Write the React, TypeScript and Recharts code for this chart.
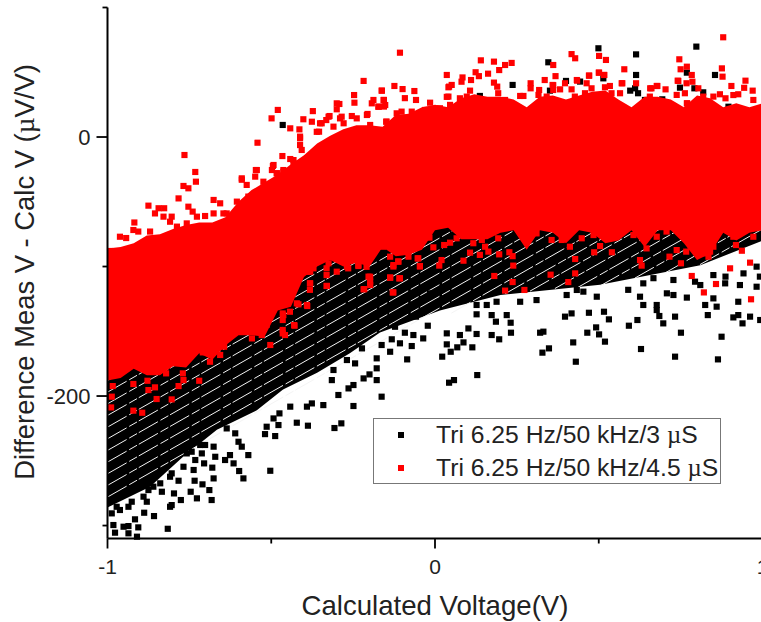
import React from 'react';
import { Area, ComposedChart, Line, Scatter, XAxis, YAxis, ZAxis } from 'recharts';

const BLACK = '#000000';
const RED = '#ff0000';

const xTicks = [-1, -0.5, 0, 0.5, 1];
const yTicks = [-300, -200, -100, 0, 100];
const xLabelled = [-1, 0, 1];
const yLabelled = [-200, 0];

// The saturated core of each cloud cannot be read point by point, so it is an
// envelope read off the picture; every square that stands out is a real point below.
const redX = [-1, -0.96, -0.92, -0.88, -0.84, -0.8, -0.76, -0.72, -0.68, -0.64, -0.6, -0.56, -0.52, -0.48, -0.44, -0.4, -0.36, -0.32, -0.28, -0.24, -0.2, -0.16, -0.12, -0.08, -0.04, 0, 0.04, 0.08, 0.12, 0.16, 0.2, 0.24, 0.28, 0.32, 0.36, 0.4, 0.44, 0.48, 0.52, 0.56, 0.6, 0.64, 0.68, 0.72, 0.76, 0.8, 0.84, 0.88, 0.92, 0.96, 1];
const redUpper = [-86, -85, -82, -76, -75, -71, -68, -66, -66, -62, -50, -41, -35, -29, -21, -14, -5, 1, 6, 9, 9, 8, 17, 18, 23, 25, 23, 30, 33, 31, 31, 29, 23, 31, 32, 29, 32, 35, 36, 29, 23, 31, 31, 29, 23, 32, 30, 23, 26, 23, 26];
const redLower = [-188, -186, -179, -184, -184, -177, -178, -167, -172, -161, -153, -153, -154, -134, -131, -108, -100, -95, -100, -97, -100, -85, -92, -91, -87, -72, -70, -79, -79, -79, -74, -72, -87, -72, -74, -82, -72, -74, -82, -80, -72, -85, -72, -72, -82, -95, -90, -74, -80, -74, -72];

const blackX = [-1, -0.87, -0.77, -0.666, -0.544, -0.464, -0.36, -0.26, -0.168, 0.015, 0.2, 0.504, 0.81, 1];
const blackLower = [-286, -270, -247, -226, -211, -195, -182, -167, -151, -134, -122, -114, -99, -80];
const blackUpper = [-150, -130, -120, -105, -95, -85, -60, -50, -40, -30, -30, -30, -30, -30];

// white gaps between the quantised rows of black squares: [x0, v0, x1, v1]
const stripes = [
  [-1, -188, -0.111, -60], [-1, -197, -0.049, -60], [-1, -206, 0.014, -60], [-1, -215, 0.076, -60],
  [-1, -224, 0.139, -60], [-1, -233, 0.201, -60], [-1, -242, 0.264, -60], [-1, -251, 0.326, -60],
  [-1, -260, 0.389, -60], [-1, -269, 0.451, -60], [-1, -278, 0.514, -60], [0.05, -136, 0.576, -60],
  [0.214, -121, 0.639, -60], [0.29, -119, 0.701, -60], [0.366, -117, 0.764, -60], [0.437, -116, 0.826, -60],
  [0.504, -115, 0.889, -60], [0.61, -109, 0.951, -60], [0.702, -105, 1, -62], [0.809, -98.5, 1, -71],
];

const redPoints = [
  [-0.218, 43.3], [-0.247, 32.4], [-0.246, 26.5], [-0.3, 26], [-0.292, 25.5], [-0.3, 21.4], [-0.193, 26], [-0.162, 35.8], [-0.172, 23.4], [-0.373, 20],
  [-0.402, 13.7], [-0.376, 11.8], [-0.48, 20.9], [-0.499, 14.4], [-0.442, 6.7], [-0.414, 5.9], [-0.542, -4.4], [-0.466, -14.7], [-0.765, -13.9], [-0.732, -27],
  [-0.73, -34.5], [-0.768, -37.8], [-0.753, -39.6], [-0.783, -47.4], [-0.875, -53], [-0.827, -55], [-0.676, -48.6], [-0.59, -33], [-0.544, -25.5], [-0.549, -30.6],
  [-0.495, -22.4], [-0.432, -20.3], [-0.918, -66], [-0.962, -77], [-0.943, -78], [-0.906, -73], [-0.844, -55], [-0.804, -61.5], [-0.753, -53.8], [-0.74, -57.6],
  [-0.656, -51.2], [-0.646, -59], [-0.575, -37], [-0.325, 15.7], [-0.351, 10.6], [-0.29, 14.4], [-0.254, 16.2], [-0.208, 17], [-0.412, -1], [-0.361, 4], [-0.432, -17.8],
  [-0.107, 65.1], [0.036, 47.9], [0.14, 59.2], [0.18, 58.2], [0.196, 51.7], [0.214, 55.6], [0.234, 57.2], [0.124, 50], [0.134, 47], [0.162, 48.9],
  [0.084, 46], [0.11, 44], [0.081, 42.7], [0.051, 40.2], [0.041, 38.4], [0.036, 31], [0.18, 42], [-0.163, 35.8], [-0.124, 39.4], [-0.099, 37],
  [-0.063, 35.5], [-0.092, 30], [-0.156, 28.6], [-0.058, 28.6], [-0.015, 26.5], [0.292, 41.5], [0.335, 44], [0.361, 55.6], [0.368, 47], [0.417, 64],
  [0.428, 60.8], [0.501, 62.6], [0.522, 59.5], [0.501, 49.7], [0.516, 47.9], [0.47, 47.4], [0.578, 52.3], [0.614, 41.5], [0.57, 41.5], [0.746, 60],
  [0.769, 54.3], [0.75, 52.3], [0.784, 47.9], [0.743, 43.3], [0.786, 42.7], [0.88, 77], [0.876, 53], [0.878, 46.6], [0.948, 43.5], [0.905, 39.4],
  [0.944, 38], [0.97, 35.8], [0.926, 33], [0.911, 32.4], [0.433, 44], [0.361, 40], [0.382, 36.8], [0.534, 39.4], [0.657, 37.6], [0.677, 39.4], [0.704, 36.8], [0.769, 26], [0.87, 33],
  [-0.158, -84.7], [-0.017, -77.7], [-0.005, -85.2], [0.028, -83.4], [0.046, -81.6], [-0.053, -93.7], [-0.046, -100], [0.02, -95], [0.013, -99.3], [-0.137, -108.4],
  [-0.107, -109], [-0.127, -120], [-0.112, -96], [-0.137, -92.4], [-0.127, -100], [0.087, -95.5], [0.107, -89.3], [0.137, -91], [0.163, -88.5], [0.196, -90.6],
  [0.227, -89], [0.237, -92], [0.239, -99.3], [0.181, -107.3], [0.237, -112], [0.214, -118.6], [0.273, -118.1], [0.353, -106.3], [0.428, -105.3], [0.407, -112],
  [0.428, -94.2], [0.486, -89], [0.54, -89], [0.504, -84.2], [0.524, -74.4], [0.631, -99.3], [0.626, -95], [0.716, -92.4], [0.751, -97.5], [0.784, -107.3],
  [0.821, -120], [0.858, -113.5], [0.901, -101.4], [0.962, -97], [0.965, -125.3], [0.835, -92.4], [0.82, -89.8], [0.937, -87.8], [0.919, -83.4], [0.738, -87.3], [0.767, -88.5], [0.646, -86],
  [-0.984, -192.3], [-0.987, -200.5], [-0.989, -208.8], [-0.921, -190.7], [-0.921, -211.3], [-0.894, -212.9], [-0.878, -188.2], [-0.875, -195.4], [-0.855, -193.3], [-0.85, -202.3],
  [-0.804, -202.6], [-0.783, -192.3], [-0.72, -188.2], [-0.768, -187.7], [-0.821, -182.5], [-0.77, -182.5], [-0.709, -166.3], [-0.687, -173.5], [-0.656, -168.3], [-0.644, -161.9],
  [-0.559, -155.5], [-0.529, -152.9], [-0.503, -160.6], [-0.465, -151.6], [-0.463, -137.5], [-0.429, -145.7], [-0.514, -145],
  [-0.381, -104], [-0.381, -113], [-0.33, -115], [-0.3, -104], [-0.376, -100], [-0.269, -100], [-0.234, -98.8], [-0.203, -107.8], [-0.198, -114.3], [-0.218, -117.6], [-0.422, -128.4], [-0.391, -129.7], [-0.325, -97.5],
];

const redUpperFringe = [
  [-0.156, 23.5], [-0.03, 20.9], [-0.117, 18.3], [-0.102, 19.6], [-0.148, 11.9], [-0.071, 19.6], [0.043, 38.9], [0.041, 31.2], [0.107, 35.8], [0.076, 29.9],
  [0.097, 31.2], [0.015, 22.2], [0.046, 24.8], [0.19, 38.9], [0.193, 33.8], [0.214, 28.6], [0.26, 31.7], [0.27, 31.7], [0.292, 37.6], [0.359, 40.2],
  [0.361, 36.3], [0.318, 36.3], [0.316, 32.5], [0.341, 31.2], [0.397, 41.5], [0.5, 49.7], [0.517, 47.9], [0.471, 47.4], [0.434, 43.5], [0.417, 36.8],
  [0.463, 41.5], [0.478, 37.6], [0.572, 41.5], [0.519, 38.4], [0.427, 31.2], [0.458, 33.8], [0.565, 33.8], [0.539, 33.8], [0.661, 37.6], [0.679, 39.4],
  [0.741, 43.5], [0.768, 41.5], [0.804, 37.6], [0.85, 31.2], [0.887, 29.9], [0.77, 26], [0.972, 28.6], [0.819, 31.2], [0.763, 33.8], [0.738, 32.5],
  [0.656, 31.2], [0.672, 27.3], [-0.442, -17], [-0.493, -21.6], [-0.498, -25.5], [-0.547, -25.5], [-0.59, -31.9], [-0.188, 28.6], [-0.157, 28.6], [-0.173, 23.4],
  [-0.152, 24.7], [-0.322, 16.2], [-0.285, 15.7], [-0.206, 17.8], [-0.346, 10.6], [-0.332, 13.1], [-0.354, 4.1], [-0.412, 0.3], [-0.412, -6.2], [-0.407, -10],
  [-0.463, -26.8], [-0.483, -28], [-0.239, 14.4], [-0.149, 11.8], [-0.198, 9.3], [-0.31, 8], [-0.279, 10.6], [-0.855, -59], [-0.829, -61.5], [-0.809, -65.4],
  [-0.87, -73], [-0.921, -71.8], [-0.788, -69.2], [-0.758, -66.7], [-0.727, -61.5], [-0.702, -61], [-0.676, -59], [-0.636, -59], [-0.605, -49.9], [-0.57, -46],
  [-0.524, -34.5], [-0.483, -28], [-0.463, -25.5], [-0.992, -88],
];

const redLowerFringe = [
  [-0.331, -101.4], [-0.331, -106.6], [-0.382, -113], [-0.382, -118], [-0.331, -115], [-0.39, -130.5], [-0.417, -129.2], [-0.443, -134.9], [-0.465, -136.2], [-0.465, -141.3],
  [-0.43, -145.2], [-0.465, -149], [-0.458, -152.9], [-0.198, -107.9], [-0.198, -111.7], [-0.216, -117.4], [-0.129, -120], [-0.137, -108.7], [-0.109, -109.2], [-0.127, -98.9],
  [-0.112, -96.3], [-0.051, -93.7], [-0.046, -99.6], [-0.234, -99.6], [-0.209, -100.2], [-0.265, -101.4], [-0.387, -104], [-0.371, -101.4],
  [-0.137, -74.4], [-0.087, -79.5], [-0.071, -86], [-0.081, -92.4], [-0.066, -77], [0.066, -78.2], [0.117, -82], [0.143, -79.5], [0.153, -84.7], [0.193, -78.2],
  [0.28, -79.5], [0.31, -74.4], [0.356, -79.5], [0.387, -79.5], [0.412, -84.7], [0.448, -78.2], [0.484, -75.7], [0.565, -74.4], [0.606, -75.7], [0.677, -77],
  [0.707, -73], [0.799, -79.5], [0.809, -87.3], [0.84, -88.5], [0.85, -84.7], [0.911, -77], [0.972, -77],
];

const blackPoints = [
  [-0.465, 9.3], [0.499, 68.5], [0.346, 57.7], [0.614, 63.8], [0.798, 69.8], [0.614, 47.9], [0.855, 47.9], [0.769, 49.7], [0.237, 40.2], [0.137, 31.7],
  [0.4, 43.3], [0.514, 45.3], [0.596, 35.8], [0.611, 37.6], [0.694, 29.1], [0.748, 38.1], [0.792, 37.6], [0.71, 24.7], [0.84, 22], [0.896, 23.4], [0.351, 35.8], [0.512, 31],
  [0.819, 34.5], [0.62, 33.8], [0.443, 42.8], [0.641, 28.6],
  [-0.816, -302.5], [-0.503, -257.7], [-0.422, -220.6], [-0.388, -222.9], [-0.307, -224.7], [-0.286, -221.1], [-0.341, -207], [-0.249, -207.7], [-0.295, -199.2], [-0.264, -194.1],
  [-0.249, -191.5], [-0.218, -186.4], [-0.2, -183.3], [-0.178, -187.7], [-0.244, -174.8], [-0.223, -163.2], [-0.59, -239.1], [-0.57, -245.6], [-0.626, -245.6], [-0.641, -249.4],
  [-0.615, -252], [-0.598, -257.9], [-0.585, -263.6], [-0.676, -263.6], [-0.68, -255.3], [-0.705, -252], [-0.671, -246.9], [-0.712, -244.3], [-0.732, -249.4], [-0.743, -243],
  [-0.768, -254.6], [-0.737, -257.1], [-0.734, -265.4], [-0.71, -268.2], [-0.689, -272.6], [-0.682, -280.3], [-0.727, -279], [-0.746, -273.9], [-0.776, -280.3], [-0.804, -284.2],
  [-0.809, -285.5], [-0.797, -275.2], [-0.783, -265.4], [-0.804, -259.7], [-0.834, -273.9], [-0.86, -270], [-0.875, -272.6], [-0.858, -292.7], [-0.888, -290.1], [-0.916, -295.2],
  [-0.906, -301.4], [-0.936, -300.4], [-0.951, -300.9], [-0.982, -299.6], [-0.977, -305.5], [-0.936, -306], [-0.91, -308.6], [-0.987, -290.6], [-0.962, -288], [-0.936, -285.5], [-0.88, -281.6],
  [-0.514, -223.7], [-0.488, -230.9], [-0.519, -229.4], [-0.478, -222.4], [-0.493, -217.3], [-0.475, -213.4], [-0.61, -228.8], [-0.636, -225], [-0.6, -235.3], [-0.676, -239.1], [-0.702, -237.8],
  [-0.442, -208.2], [-0.391, -208.2], [-0.376, -205.7], [-0.315, -187.7], [-0.31, -179.9], [-0.269, -172.2], [-0.178, -170.9], [-0.178, -178.6],
  [-0.972, -285.5], [-0.926, -281.6], [-0.89, -277.7], [-0.839, -267.4], [-0.809, -262.3], [-0.758, -244.3], [-0.717, -237.8],
  [-0.163, -200.5], [-0.085, -171.7], [0.043, -189.7], [0.058, -187.7], [0.129, -183.8], [0.022, -169.6], [0.048, -165.8], [0.068, -162.4], [0.087, -158.6], [0.114, -162.4],
  [0.036, -160.1], [0.127, -152.1], [0.076, -152.9], [0.036, -151.6], [0.102, -147.8], [0.173, -152.9], [0.196, -156.2], [0.232, -151.1], [0.186, -142.6], [0.231, -143.4],
  [0.173, -137.5], [0.219, -137.5], [0.127, -136.9], [0.321, -151.1], [0.331, -150.3], [0.328, -166.5], [0.348, -163.2], [0.422, -158.6], [0.43, -173.5], [0.465, -151.1],
  [0.492, -147], [0.501, -152.4], [0.519, -158], [0.397, -138.7], [0.417, -136.2], [0.47, -135.7], [0.516, -134.9], [0.531, -140.8], [0.592, -145.7], [0.618, -141.3],
  [0.629, -163.7], [0.677, -133.6], [0.685, -138.2], [0.697, -143.9], [0.733, -138.7], [0.751, -151.1], [0.733, -169.6], [0.875, -154.2], [0.864, -171.7], [0.833, -137.5],
  [0.911, -139.3], [0.926, -137.5], [0.939, -143.9], [0.962, -138.7], [0.993, -141.3], [-0.137, -165.8], [-0.107, -159.3], [-0.132, -156.2], [-0.163, -160.6], [-0.071, -161.4],
  [-0.066, -152.9], [-0.036, -155.5], [-0.092, -151.1], [-0.122, -146.5], [-0.022, -145.7], [-0.058, -138.7],
  [0.626, -123.3], [0.636, -129.7], [0.677, -129.7], [0.728, -122], [0.769, -124], [0.825, -129.7], [0.85, -124.6], [0.86, -131], [0.926, -127.2], [0.982, -115.6],
  [0.931, -114.3], [0.886, -113], [0.81, -114.3], [0.728, -110.4], [0.667, -109], [0.636, -113], [0.85, -106.6], [0.887, -107.8], [0.942, -105.3], [0.982, -100.1],
  [0.992, -107.8], [0.794, -111.7], [0.708, -120.7], [0.59, -118], [0.494, -123.3], [0.453, -119.4], [0.433, -118.1], [0.402, -122], [0.31, -125.9], [0.26, -127.2],
  [0.188, -127.2], [0.158, -129.7], [0.127, -129.7], [-0.015, -120.7],
];

const legendRows = [
  { label: 'Tri 6.25 Hz/50 kHz/3 ', color: BLACK },
  { label: 'Tri 6.25 Hz/50 kHz/4.5 ', color: RED },
];

const SANS = '"Liberation Sans", Arial, sans-serif';
const SERIF = '"Liberation Serif", serif';

const toRows = (rows: number[][]) => rows.map(([x, v]) => ({ x, v }));
const redBand = redX.map((x, i) => ({ x, range: [redLower[i], redUpper[i]] }));
const blackBand = blackX.map((x, i) => ({ x, range: [blackLower[i], blackUpper[i]] }));

const XTick = ({ x, y, payload }: any) => {
  const major = xLabelled.includes(payload.value);
  return (
    <g>
      <line x1={x} x2={x} y1={y} y2={y + (major ? 10 : 5)} stroke="#000" strokeWidth={1.8} />
      {major && (
        <text x={x} y={y + 35} textAnchor="middle" fontFamily={SANS} fontSize={21} fill="#222">
          {payload.value}
        </text>
      )}
    </g>
  );
};

const YTick = ({ x, y, payload }: any) => {
  const major = yLabelled.includes(payload.value);
  return (
    <g>
      <line x1={x} x2={x - (major ? 11 : 5)} y1={y} y2={y} stroke="#000" strokeWidth={1.8} />
      {major && (
        <text x={x - 17} y={y + 7.5} textAnchor="end" fontFamily={SANS} fontSize={22} fill="#222">
          {payload.value}
        </text>
      )}
    </g>
  );
};

const App = () => (
  <div style={{ position: 'absolute', left: 0, top: 0, width: 761, height: 622, overflow: 'hidden', background: '#fff' }}>
    <ComposedChart width={800} height={622} margin={{ top: 7.5, right: 37.5, bottom: 0, left: 0 }}>
      <XAxis
        dataKey="x"
        type="number"
        domain={[-1, 1]}
        ticks={xTicks}
        height={83.5}
        tickSize={0}
        tickMargin={0}
        tickLine={false}
        tick={<XTick />}
        axisLine={{ stroke: '#000', strokeWidth: 2 }}
        allowDuplicatedCategory={false}
        interval={0}
      />
      <YAxis
        dataKey="v"
        type="number"
        domain={[-310, 100]}
        ticks={yTicks}
        width={107.5}
        tickSize={0}
        tickMargin={0}
        tickLine={false}
        tick={<YTick />}
        axisLine={{ stroke: '#000', strokeWidth: 2 }}
        interval={0}
      />
      <ZAxis range={[38, 38]} />
      <Area data={blackBand} dataKey="range" type="linear" fill={BLACK} fillOpacity={1} stroke="none" dot={false} activeDot={false} isAnimationActive={false} zIndex={100} />
      {stripes.map(([x0, v0, x1, v1], i) => (
        <Line
          key={i}
          data={toRows([[x0, v0], [x1, v1]])}
          dataKey="v"
          stroke="#f4f4f4"
          strokeWidth={1}
          strokeDasharray="22 3 9 2"
          dot={false}
          activeDot={false}
          legendType="none"
          isAnimationActive={false}
          zIndex={101}
        />
      ))}
      <Scatter data={toRows(blackPoints)} dataKey="v" fill={BLACK} shape="square" isAnimationActive={false} zIndex={102} />
      <Area data={redBand} dataKey="range" type="linear" fill={RED} fillOpacity={1} stroke="none" dot={false} activeDot={false} isAnimationActive={false} zIndex={103} />
      <Scatter data={toRows(redPoints)} dataKey="v" fill={RED} shape="square" isAnimationActive={false} zIndex={104} />
      <Scatter data={toRows(redUpperFringe)} dataKey="v" fill={RED} shape="square" isAnimationActive={false} zIndex={104} />
      <Scatter data={toRows(redLowerFringe)} dataKey="v" fill={RED} shape="square" isAnimationActive={false} zIndex={104} />
    </ComposedChart>

    <svg width={761} height={622} style={{ position: 'absolute', left: 0, top: 0, pointerEvents: 'none' }}>
      <text x={435} y={615} textAnchor="middle" fontFamily={SANS} fontSize={27.6} fill="#222">
        Calculated Voltage(V)
      </text>
      <text transform="translate(34 272) rotate(-90)" textAnchor="middle" fontFamily={SANS} fontSize={27.4} fill="#222">
        Difference Meas V - Calc V (<tspan fontFamily={SERIF}>µ</tspan>V/V)
      </text>
    </svg>

    <div style={{ position: 'absolute', left: 373, top: 418, width: 346, height: 64, background: '#fff', border: '1px solid #777' }}>
      {legendRows.map((row, i) => (
        <div key={row.label} style={{ position: 'absolute', left: 0, top: i * 32.5, height: 32, width: 346 }}>
          <span style={{ position: 'absolute', left: 24, top: 13, width: 6, height: 6, background: row.color }} />
          <span style={{ position: 'absolute', left: 62, top: 0, whiteSpace: 'nowrap', fontFamily: SANS, fontSize: 24.7, lineHeight: '32px', color: '#222' }}>
            {row.label}
            <span style={{ fontFamily: SERIF }}>µ</span>S
          </span>
        </div>
      ))}
    </div>
  </div>
);

export default App;
